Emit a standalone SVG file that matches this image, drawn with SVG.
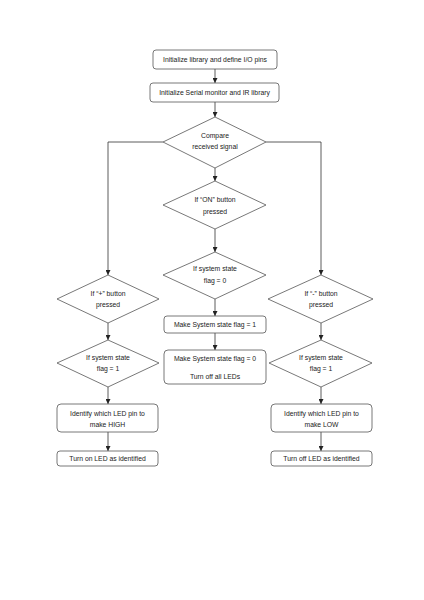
<svg xmlns="http://www.w3.org/2000/svg" width="424" height="600" viewBox="0 0 424 600">
<style>
.b{fill:#fff;stroke:#555;stroke-width:0.8}
.t{font-family:"Liberation Sans",Arial,sans-serif;font-size:6.8px;fill:#222;text-anchor:middle}
.c{fill:none;stroke:#333;stroke-width:0.8}
</style>
<defs>
<marker id="a" viewBox="0 0 6 6" refX="6" refY="3" markerWidth="5" markerHeight="5" orient="auto" markerUnits="userSpaceOnUse">
<path d="M0,0L6,3L0,6z" fill="#222"/>
</marker>
</defs>
<rect width="424" height="600" fill="#fff"/>
<g id="connectors">
<path class="c" d="M215,69V83" marker-end="url(#a)"/>
<path class="c" d="M215,102V117" marker-end="url(#a)"/>
<path class="c" d="M215,168V181" marker-end="url(#a)"/>
<path class="c" d="M215,229V252" marker-end="url(#a)"/>
<path class="c" d="M215,299V316" marker-end="url(#a)"/>
<path class="c" d="M215,333V350" marker-end="url(#a)"/>
<path class="c" d="M163,142H108V275" marker-end="url(#a)"/>
<path class="c" d="M266,142H321V275" marker-end="url(#a)"/>
<path class="c" d="M108,323V340" marker-end="url(#a)"/>
<path class="c" d="M108,387V404" marker-end="url(#a)"/>
<path class="c" d="M108,432V451" marker-end="url(#a)"/>
<path class="c" d="M321,323V340" marker-end="url(#a)"/>
<path class="c" d="M321,387V404" marker-end="url(#a)"/>
<path class="c" d="M321,432V451" marker-end="url(#a)"/>
</g>
<g id="init1"><rect class="b" x="153" y="50" width="124" height="19" rx="3"/><text class="t" x="215" y="62">Initialize library and define I/O pins</text></g>
<g id="init2"><rect class="b" x="150" y="83" width="129" height="19" rx="3"/><text class="t" x="214.5" y="95">Initialize Serial monitor and IR library</text></g>
<g id="compare"><polygon class="b" points="215,117 266,142 215,168 163,142"/><text class="t" x="215" y="138">Compare</text><text class="t" x="215" y="149">received signal</text></g>
<g id="on"><polygon class="b" points="215,181 266,205 215,229 163,205"/><text class="t" x="215" y="202">If “ON” button</text><text class="t" x="215" y="214">pressed</text></g>
<g id="flag0q"><polygon class="b" points="215,252 266,275 215,299 163,275"/><text class="t" x="215" y="271">If system state</text><text class="t" x="215" y="283">flag = 0</text></g>
<g id="set1"><rect class="b" x="164" y="316" width="102" height="17" rx="3"/><text class="t" x="215" y="327">Make System state flag = 1</text></g>
<g id="set0"><rect class="b" x="164" y="350" width="102" height="34" rx="4"/><text class="t" x="215" y="361">Make System state flag = 0</text><text class="t" x="215" y="379">Turn off all LEDs</text></g>
<g id="plus"><polygon class="b" points="108,275 159,299 108,323 57,299"/><text class="t" x="108" y="296">If “+” button</text><text class="t" x="108" y="307">pressed</text></g>
<g id="flag1l"><polygon class="b" points="108,340 159,363 108,387 57,363"/><text class="t" x="108" y="360">If system state</text><text class="t" x="108" y="371">flag = 1</text></g>
<g id="idhigh"><rect class="b" x="57" y="404" width="101" height="28" rx="4"/><text class="t" x="107.5" y="416">Identify which LED pin to</text><text class="t" x="107.5" y="427">make HIGH</text></g>
<g id="turnon"><rect class="b" x="57" y="451" width="101" height="15" rx="3"/><text class="t" x="107.5" y="461">Turn on LED as identified</text></g>
<g id="minus"><polygon class="b" points="321,275 373,299 321,323 268,299"/><text class="t" x="321" y="296">If “-” button</text><text class="t" x="321" y="307">pressed</text></g>
<g id="flag1r"><polygon class="b" points="321,340 372,363 321,387 269,363"/><text class="t" x="321" y="360">If system state</text><text class="t" x="321" y="371">flag = 1</text></g>
<g id="idlow"><rect class="b" x="271" y="404" width="101" height="28" rx="4"/><text class="t" x="321.5" y="416">Identify which LED pin to</text><text class="t" x="321.5" y="427">make LOW</text></g>
<g id="turnoff"><rect class="b" x="271" y="451" width="101" height="15" rx="3"/><text class="t" x="321.5" y="461">Turn off LED as identified</text></g>
</svg>
